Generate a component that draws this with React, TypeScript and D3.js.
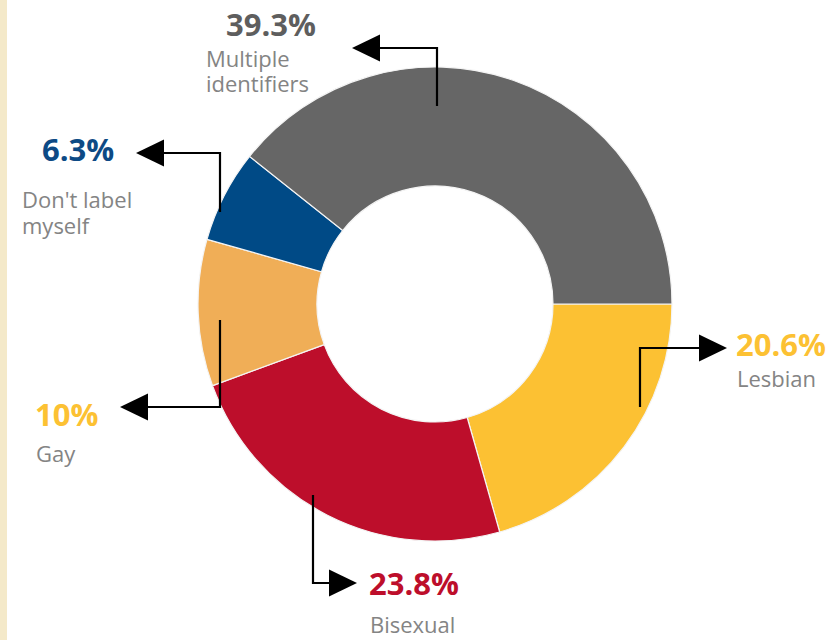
import { useEffect, useRef } from "react"
import * as d3 from "d3"

// slice order: clockwise from 3 o'clock
const labels = ["Lesbian", "Bisexual", "Gay", "Don't label myself", "Multiple identifiers"]
const values = [20.6, 23.8, 10, 6.3, 39.3]
const valueLabels = ["20.6%", "23.8%", "10%", "6.3%", "39.3%"]
const sliceColors = ["#fcc133", "#bd0e2b", "#f0ae57", "#004a86", "#666666"]
const pctColors = ["#fcc133", "#bd0e2b", "#fcc133", "#0d4a85", "#5e5e5e"]

// annotation layout: elbow line start (inside slice), corner, arrow tip; text position
const annotations = [
    { start: [640, 407], corner: [640, 348], tip: [727, 348], text: [736, 356], lines: ["Lesbian"], lineY: [387] },
    { start: [313, 495], corner: [313, 583], tip: [357, 583], text: [369, 595], lines: ["Bisexual"], lineY: [633] },
    { start: [220, 320], corner: [220, 407], tip: [120, 407], text: [35, 426], lines: ["Gay"], lineY: [462] },
    { start: [220, 212], corner: [220, 153], tip: [136, 153], text: [42, 161], lines: ["Don't label", "myself"], lineY: [208, 234], textX: 22 },
    { start: [437, 106], corner: [437, 48], tip: [352, 48], text: [226, 36], lines: ["Multiple", "identifiers"], lineY: [67, 92], textX: 206 },
]

const FONT = "'Open Sans', 'Noto Sans', sans-serif"

export default function App() {
    const ref = useRef<SVGSVGElement>(null)

    useEffect(() => {
        const width = 834
        const height = 640
        const cx = 435
        const cy = 304
        const outerR = 237
        const innerR = 118

        const svg = d3.select(ref.current)
        svg.selectAll("*").remove()

        svg.append("rect").attr("width", width).attr("height", height).attr("fill", "#ffffff")
        svg.append("rect").attr("width", 7).attr("height", height).attr("fill", "#f4e9c9")

        const pie = d3.pie<number>()
            .sort(null)
            .value(d => d)
            .startAngle(Math.PI / 2)
            .endAngle(Math.PI / 2 + 2 * Math.PI)

        const arc = d3.arc<d3.PieArcDatum<number>>()
            .innerRadius(innerR)
            .outerRadius(outerR)

        const g = svg.append("g").attr("transform", `translate(${cx},${cy})`)

        g.selectAll("path")
            .data(pie(values))
            .join("path")
            .attr("d", arc)
            .attr("fill", (d, i) => sliceColors[i])
            .attr("stroke", "#f4f4f4")
            .attr("stroke-width", 1.2)

        // arrows + labels
        annotations.forEach((a, i) => {
            const [sx, sy] = a.start
            const [kx, ky] = a.corner
            const [tx, ty] = a.tip
            const dir = Math.sign(tx - kx)
            const headLen = 28
            const headHalf = 13.5
            const baseX = tx - dir * headLen

            svg.append("path")
                .attr("d", `M${sx},${sy}L${kx},${ky}L${baseX},${ty}`)
                .attr("fill", "none")
                .attr("stroke", "#000")
                .attr("stroke-width", 2.2)

            svg.append("path")
                .attr("d", `M${tx},${ty}L${baseX},${ty - headHalf}L${baseX},${ty + headHalf}Z`)
                .attr("fill", "#000")

            svg.append("text")
                .attr("x", a.text[0])
                .attr("y", a.text[1])
                .attr("font-family", FONT)
                .attr("font-weight", 700)
                .attr("font-size", 31)
                .attr("fill", pctColors[i])
                .text(valueLabels[i])

            const lx = a.textX ?? a.text[0] + 1
            const label = svg.append("text")
                .attr("font-family", FONT)
                .attr("font-size", 22)
                .attr("fill", "#848484")

            a.lines.forEach((line, j) => {
                label.append("tspan")
                    .attr("x", lx)
                    .attr("y", a.lineY[j])
                    .text(line)
            })
        })
    }, [])

    return (
        <svg
            ref={ref}
            width={834}
            height={640}
            style={{ position: "absolute", top: 0, left: 0, display: "block" }}
            aria-label={labels.join(", ")}
        />
    )
}
